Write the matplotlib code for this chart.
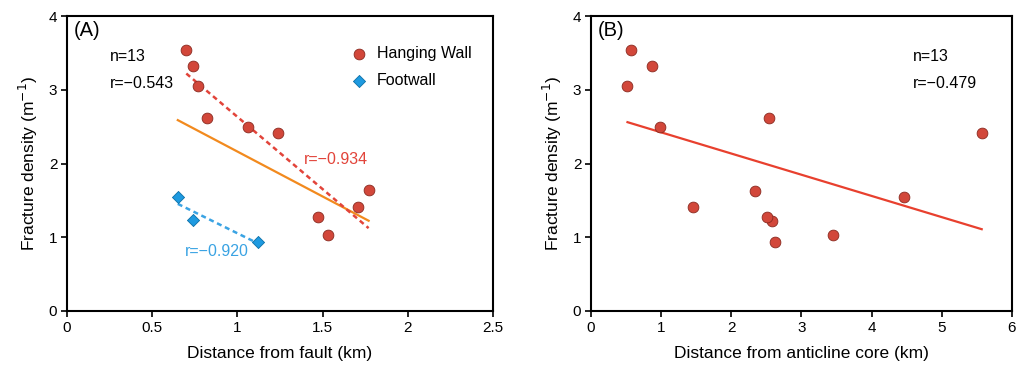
import numpy as np
import matplotlib.pyplot as plt

plt.rcParams['font.family'] = ['Liberation Sans', 'DejaVu Sans']

# Fracture density data
hw_fault = [0.70, 0.74, 0.77, 0.82, 1.06, 1.24, 1.47, 1.53, 1.71, 1.77]
hw_density = [3.54, 3.32, 3.05, 2.62, 2.49, 2.41, 1.27, 1.03, 1.41, 1.64]
fw_fault = [0.65, 0.74, 1.12]
fw_density = [1.55, 1.23, 0.94]

core_dist = [0.57, 0.87, 0.52, 2.54, 0.99, 5.57, 3.45, 1.46, 2.58, 2.63, 2.34, 4.46, 2.51]
core_density = [3.54, 3.32, 3.05, 2.62, 2.49, 2.41, 1.03, 1.41, 1.22, 0.93, 1.63, 1.55, 1.27]

red = '#d2473a'
blue = '#1e9ae0'
orange = '#f28a1e'


def fit_line(x, y):
    x = np.asarray(x)
    p = np.polyfit(x, y, 1)
    xs = np.array([x.min(), x.max()])
    return xs, np.polyval(p, xs)


fig = plt.figure(figsize=(10.19, 3.65), dpi=100)
axA = fig.add_axes([0.0658, 0.148, 0.418, 0.808])
axB = fig.add_axes([0.580, 0.148, 0.413, 0.808])

# panel A
all_x = hw_fault + fw_fault
all_y = hw_density + fw_density
xs, ys = fit_line(all_x, all_y)
axA.plot(xs, ys, color=orange, lw=1.6, zorder=2)
xs, ys = fit_line(hw_fault, hw_density)
axA.plot(xs, ys, color='#e2443a', lw=1.8, ls=(0, (2, 1.5)), zorder=2)
xs, ys = fit_line(fw_fault, fw_density)
axA.plot(xs, ys, color='#3aa3e3', lw=1.8, ls=(0, (2, 1.5)), zorder=2)
axA.scatter(hw_fault, hw_density, s=60, color=red, edgecolor='#8a2a20', lw=0.6,
            zorder=3, label='Hanging Wall')
axA.scatter(fw_fault, fw_density, s=38, marker='D', color=blue, edgecolor='#0b6fa8',
            lw=0.6, zorder=3, label='Footwall')
axA.set_xlim(0, 2.5)
axA.set_ylim(0, 4)
axA.set_xticks([0, 0.5, 1, 1.5, 2, 2.5])
axA.set_xticklabels(['0', '0.5', '1', '1.5', '2', '2.5'])
axA.set_xlabel('Distance from fault (km)', fontsize=12.5, labelpad=8)
axA.set_ylabel('Fracture density (m$^{-1}$)', fontsize=12.5, labelpad=6)
axA.text(0.04, 3.8, '(A)', fontsize=14.5, va='center')
axA.text(0.25, 3.45, 'n=13', fontsize=11.5, va='center')
axA.text(0.25, 3.09, 'r=\u22120.543', fontsize=11.5, va='center')
axA.text(1.39, 2.05, 'r=\u22120.934', fontsize=11.5, va='center', color='#e2443a')
axA.text(0.69, 0.80, 'r=\u22120.920', fontsize=11.5, va='center', color='#3aa3e3')
axA.legend(loc='upper right', frameon=False, fontsize=11.5, handletextpad=0.1,
           borderaxespad=0.3, labelspacing=0.75, bbox_to_anchor=(0.975, 0.935))

# panel B
xs, ys = fit_line(core_dist, core_density)
axB.plot(xs, ys, color='#e8402e', lw=1.6, zorder=2)
axB.scatter(core_dist, core_density, s=60, color=red, edgecolor='#8a2a20', lw=0.6, zorder=3)
axB.set_xlim(0, 6)
axB.set_ylim(0, 4)
axB.set_xticks(range(7))
axB.set_xlabel('Distance from anticline core (km)', fontsize=12.5, labelpad=8)
axB.set_ylabel('Fracture density (m$^{-1}$)', fontsize=12.5, labelpad=6)
axB.text(0.1, 3.8, '(B)', fontsize=14.5, va='center')
axB.text(4.59, 3.45, 'n=13', fontsize=11.5, va='center')
axB.text(4.59, 3.09, 'r=\u22120.479', fontsize=11.5, va='center')

for ax in (axA, axB):
    ax.set_yticks([0, 1, 2, 3, 4])
    ax.tick_params(direction='out', length=4, width=1.2, labelsize=11, pad=3)
    for sp in ax.spines.values():
        sp.set_linewidth(1.5)

fig.savefig('out.png', dpi=100)
